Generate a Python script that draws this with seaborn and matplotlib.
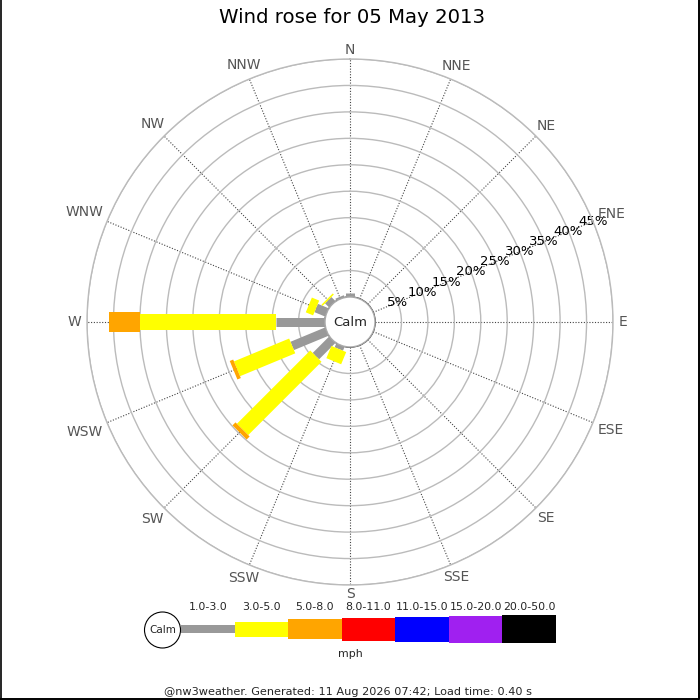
import numpy as np
import matplotlib
matplotlib.use("Agg")
import matplotlib.pyplot as plt
from matplotlib.patches import Circle, Rectangle
import seaborn as sns

# ---------------- data ----------------
directions = ["N", "NNE", "NE", "ENE", "E", "ESE", "SE", "SSE",
              "S", "SSW", "SW", "WSW", "W", "WNW", "NW", "NNW"]
speed_ranges = ["1.0-3.0", "3.0-5.0", "5.0-8.0", "8.0-11.0",
                "11.0-15.0", "15.0-20.0", "20.0-50.0"]
# percent of time per direction, per speed range
pct_1_3 = [0.8, 0, 0, 0, 0, 0, 0, 0, 0, 0.8, 4.4, 7.1, 9.3, 2.2, 1.1, 0.4]
pct_3_5 = [0, 0, 0, 0, 0, 0, 0, 0, 0, 2.5, 19.6, 11.3, 25.7, 1.5, 0.3, 0]
pct_5_8 = [0, 0, 0, 0, 0, 0, 0, 0, 0, 0, 0.8, 0.7, 5.8, 0, 0, 0]
series = [pct_1_3, pct_3_5, pct_5_8]
ring_values = [5, 10, 15, 20, 25, 30, 35, 40, 45]
ring_labels = ["5%", "10%", "15%", "20%", "25%", "30%", "35%", "40%", "45%"]
title = "Wind rose for 05 May 2013"
unit_label = "mph"
footer = "@nw3weather. Generated: 11 Aug 2026 07:42; Load time: 0.40 s"

# ---------------- style ----------------
sns.set_theme(style="white")
plt.rcParams["font.family"] = ["DejaVu Sans"]
palette = sns.color_palette(["#999999", "#ffff00", "#ffa500", "#ff0000",
                             "#0000ff", "#a020f0", "#000000"])
leg_px_widths = [9, 16, 20, 23, 25, 27, 28]

W = H = 700
fig = plt.figure(figsize=(7, 7), dpi=100)
fig.patch.set_facecolor("white")

cx, cy, R, calm_r = 350, 322, 263, 25
rmax = 45
calm_pct = calm_r / (R - calm_r) * rmax

pax = fig.add_axes([(cx - R) / W, (H - cy - R) / H, 2 * R / W, 2 * R / H],
                   projection="polar")
pax.set_theta_zero_location("N")
pax.set_theta_direction(-1)
pax.set_rorigin(-calm_pct)
pax.set_ylim(0, rmax)
pax.set_facecolor("white")

angles = np.arange(16) * 22.5
pax.set_thetagrids(angles, labels=[""] * 16)
pax.set_yticks(ring_values)
pax.set_yticklabels(ring_labels, fontsize=9.5, color="black")
pax.set_rlabel_position(67.5)
for lab in pax.get_yticklabels():
    lab.set_ha("center")
    lab.set_va("center")
pax.grid(True)
pax.yaxis.grid(True, color="#bbbbbb", linewidth=1, linestyle="-")
pax.xaxis.grid(True, color="#444444", linewidth=0.8, linestyle=(0, (1, 1.5)))
pax.spines["polar"].set_color("#bbbbbb")
pax.spines["polar"].set_linewidth(1)

theta = np.deg2rad(angles)
start = np.zeros(16)
for k, vals in enumerate(series):
    vals = np.asarray(vals, dtype=float)
    end = start + vals
    m = vals > 0
    if m.any():
        lc = pax.vlines(theta[m], start[m], end[m], colors=[palette[k]],
                        linewidths=leg_px_widths[k] * 0.72, zorder=3)
        lc.set_capstyle("butt")
    start = end

# ---------------- overlay: title, calm, legend, footer ----------------
oax = fig.add_axes([0, 0, 1, 1])
oax.set_xlim(0, W)
oax.set_ylim(H, 0)
oax.axis("off")
oax.patch.set_alpha(0)

# compass labels: text box touches a circle just outside the rose
renderer = fig.canvas.get_renderer()
r0 = 268
for ang, name in zip(angles, directions):
    t = oax.text(0, 0, name, ha="center", va="center", fontsize=10,
                 color="#555555")
    bb = t.get_window_extent(renderer)
    hw, hh = bb.width / 2 * 1.05, bb.height / 2 * 0.5
    ux, uy = np.sin(np.deg2rad(ang)), -np.cos(np.deg2rad(ang))
    d = r0 + hw * abs(ux) + hh * abs(uy)
    t.set_position((cx + d * ux, cy + d * uy))

oax.text(352, 17.5, title, ha="center", va="center", fontsize=14.2, color="black")

oax.add_patch(Circle((cx, cy), calm_r, facecolor="white", edgecolor="#aaaaaa",
                     linewidth=1, zorder=5))
oax.text(cx, cy + 0.5, "Calm", ha="center", va="center", fontsize=9.5, zorder=6)

# legend
lcx, lcy, lr = 162.5, 630, 18
oax.add_patch(Circle((lcx, lcy), lr, facecolor="white", edgecolor="black",
                     linewidth=0.8, zorder=5))
oax.text(lcx, lcy, "Calm", ha="center", va="center", fontsize=7.5, zorder=6)
seg_w = (556 - 181) / len(speed_ranges)
heights = [8.3, 15, 20, 23, 25, 27, 28.3]
for i, (lab, col) in enumerate(zip(speed_ranges, palette)):
    x0 = 181 + i * seg_w
    h = heights[i]
    oax.add_patch(Rectangle((x0, 629.3 - h / 2), seg_w, h, facecolor=col,
                            edgecolor="none", zorder=4))
    oax.text(x0 + seg_w / 2, 607, lab, ha="center", va="center", fontsize=7.9)
oax.text(350.5, 654, unit_label, ha="center", va="center", fontsize=7.9)

oax.text(348, 692, footer, ha="center", va="center", fontsize=8.15)
# frame on left, right and bottom edges
oax.plot([0.5, 0.5], [0, 699.5], color="black", linewidth=1.2)
oax.plot([698.8, 698.8], [0, 699], color="black", linewidth=1.4)
oax.plot([0, 699], [698.8, 698.8], color="black", linewidth=1.4)

fig.savefig("out.png", dpi=100, facecolor="white")
